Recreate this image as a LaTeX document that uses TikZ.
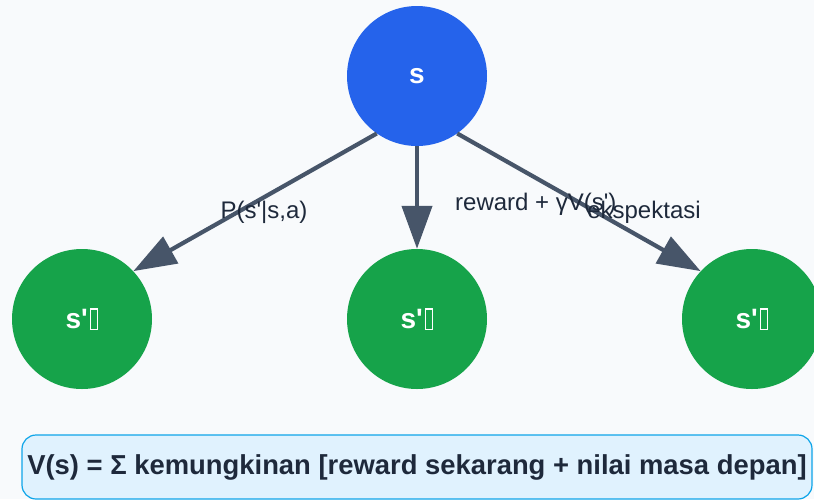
\documentclass[tikz,border=0pt]{standalone}
\usepackage{fontspec}
\setmainfont{Liberation Sans}
% a family without TeX quote ligatures, so ' stays a straight quote
\newfontfamily\plainsans{Liberation Sans}
\usetikzlibrary{arrows.meta}
\definecolor{bg}{HTML}{F8FAFC}
\definecolor{stateblue}{HTML}{2563EB}
\definecolor{nextgreen}{HTML}{16A34A}
\definecolor{edgegray}{HTML}{475569}
\definecolor{labelink}{HTML}{1E293B}
\definecolor{notefill}{HTML}{E0F2FE}
\definecolor{noteline}{HTML}{0EA5E9}
% placeholder glyph box after s'
\newcommand\glyphbox{\hspace{2pt}{\fboxsep=0pt\fboxrule=1.1pt\fbox{\rule{0pt}{19pt}\hspace{6.5pt}}}}
\begin{document}
\begin{tikzpicture}[x=1pt,y=-1pt,
  statenode/.style={circle,minimum size=140pt,inner sep=0pt,text=white,
    font=\plainsans\fontsize{28}{30}\selectfont\bfseries},
  arr/.style={draw=edgegray,line width=4.2pt,
    -{Triangle[length=43pt,width=30pt]}},
  edgelabel/.style={text=labelink,font=\plainsans\fontsize{24}{27}\selectfont,inner sep=0pt}]
  \fill[bg] (0,0) rectangle (814,499);
  \useasboundingbox (0,0) rectangle (814,499);

  \node[statenode,fill=stateblue] (s) at (417,76) {s};
  \node[statenode,fill=nextgreen] (c1) at (82,319) {s'\glyphbox};
  \node[statenode,fill=nextgreen] (c2) at (417,319) {s'\glyphbox};
  \node[statenode,fill=nextgreen] (c3) at (752,319) {s'\glyphbox};

  \draw[arr] (s.235) -- (c1.43);
  \draw[arr] (s.south) -- (c2.north);
  \draw[arr] (s.305) -- (c3.137);

  \node[edgelabel] (l1) at (264,212) {P(s'|s,a)};
  \node[edgelabel,anchor=west] (l2) at (455,204) {reward + γV(s')};
  \node[edgelabel] (l3) at (644,212) {ekspektasi};

  \node[draw=noteline,line width=1.2pt,fill=notefill,rounded corners=14pt,
    minimum width=790pt,minimum height=64pt,inner sep=0pt] (note) at (417,467) {};
  \node[text=labelink,font=\plainsans\fontsize{27.4}{31}\selectfont\bfseries] (notetext) at (417,467)
    {V(s) = Σ kemungkinan [reward sekarang + nilai masa depan]};
\end{tikzpicture}
\end{document}
